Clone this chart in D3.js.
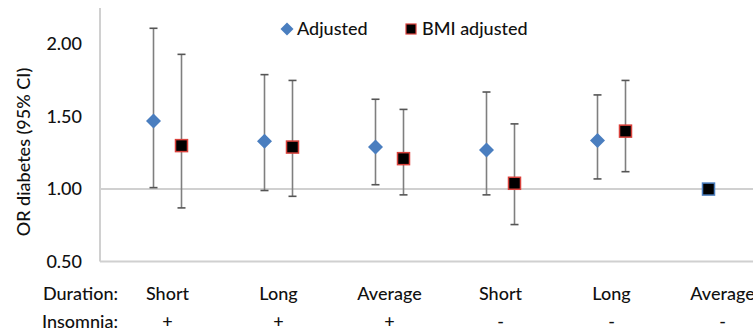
<!DOCTYPE html>
<html>
<head>
<meta charset="utf-8">
<title>OR diabetes</title>
<script src="https://d3js.org/d3.v7.min.js"></script>
<style>
	body { margin: 0; background: #fff; }
	text { font-family: Lato, "Open Sans", sans-serif; fill: #111; font-weight: 500; }
</style>
</head>
<body>
<div id="main"></div>
<script type="text/javascript">
	// values
	var categories   = ["Short +", "Long +", "Average +", "Short -", "Long -", "Average -"];
	var durations    = ["Short", "Long", "Average", "Short", "Long", "Average"];
	var insomnia     = ["+", "+", "+", "-", "-", "-"];
	var adjusted     = [1.47, 1.33, 1.29, 1.27, 1.335, 1.00];
	var adjustedLow  = [1.01, 0.99, 1.03, 0.96, 1.07, null];
	var adjustedHigh = [2.11, 1.79, 1.62, 1.67, 1.65, null];
	var bmiAdjusted  = [1.30, 1.29, 1.21, 1.04, 1.40, null];
	var bmiLow       = [0.87, 0.95, 0.96, 0.755, 1.12, null];
	var bmiHigh      = [1.93, 1.75, 1.55, 1.45, 1.75, null];
	var referenceCat = "Average -";
	var yTicks       = [0.5, 1.0, 1.5, 2.0];
	var seriesNames  = ["Adjusted", "BMI adjusted"];

	var screenWidth  = 753;
	var screenHeight = 334;
	var plot = {left: 100, top: 8, bottom: 261.5, right: 778};

	var blue = "#4a7ebf";
	var red  = "#d9423c";
	var barColour = "#7f7f7f";
	var lineColour = "#d0d0d0";

	var xScale = d3.scaleBand().domain(categories).range([plot.left + 12, plot.right]);
	var yScale = d3.scaleLinear().domain([0.5, 2.25]).range([plot.bottom, plot.top]);
	var shift  = 14;

	var svg = d3.select("#main").append("svg")
		.attr("width", screenWidth)
		.attr("height", screenHeight);

	function cx(cat){ return xScale(cat) + xScale.bandwidth() / 2; }

	function diamondPath(r){
		return "M0," + (-r) + "L" + r + ",0L0," + r + "L" + (-r) + ",0Z";
	}

	// axis lines: y axis, x axis at 0.5 and the line at OR = 1
	svg.append("line")
		.attr("x1", plot.left).attr("x2", plot.left)
		.attr("y1", plot.top).attr("y2", plot.bottom)
		.attr("stroke", lineColour).attr("stroke-width", 2);
	svg.selectAll("line.hline").data([0.5, 1.0]).enter().append("line")
		.attr("class", "hline")
		.attr("x1", plot.left).attr("x2", plot.right)
		.attr("y1", d => yScale(d)).attr("y2", d => yScale(d))
		.attr("stroke", lineColour).attr("stroke-width", 2);

	var yAxis = svg.append("g").attr("transform", "translate(" + (plot.left - 18) + ",0)")
		.call(d3.axisLeft(yScale).tickValues(yTicks).tickFormat(d3.format(".2f")).tickSize(0).tickPadding(0));
	yAxis.select(".domain").remove();
	yAxis.selectAll("text").attr("font-size", 18).attr("fill", "#111")
		.style("font-family", "Lato, sans-serif");

	svg.append("text")
		.attr("transform", "translate(23," + 152 + ") rotate(-90)")
		.attr("text-anchor", "middle")
		.attr("dominant-baseline", "central")
		.attr("font-size", 18)
		.text("OR diabetes (95% CI)");

	// build the rows for both series
	var rows = [];
	categories.forEach(function(cat, i){
		rows.push({cat: cat, series: 0, v: adjusted[i], lo: adjustedLow[i], hi: adjustedHigh[i]});
		rows.push({cat: cat, series: 1, v: bmiAdjusted[i], lo: bmiLow[i], hi: bmiHigh[i]});
	});
	rows = rows.filter(d => d.v !== null);
	function px(d){ return cx(d.cat) + (d.series === 0 ? -shift : shift); }

	var bars = rows.filter(d => d.lo !== null);
	var eb = svg.selectAll("g.err").data(bars).enter().append("g").attr("class", "err");
	eb.append("line")
		.attr("x1", px).attr("x2", px)
		.attr("y1", d => yScale(d.lo)).attr("y2", d => yScale(d.hi))
		.attr("stroke", barColour).attr("stroke-width", 1.6);
	eb.selectAll("line.cap").data(d => [{x: px(d), y: d.lo}, {x: px(d), y: d.hi}]).enter().append("line")
		.attr("class", "cap")
		.attr("x1", d => d.x - 4).attr("x2", d => d.x + 4)
		.attr("y1", d => yScale(d.y)).attr("y2", d => yScale(d.y))
		.attr("stroke", "#555").attr("stroke-width", 1.6);

	// markers
	svg.selectAll("path.adj").data(rows.filter(d => d.series === 0 && d.cat !== referenceCat)).enter().append("path")
		.attr("class", "adj")
		.attr("transform", d => "translate(" + px(d) + "," + yScale(d.v) + ")")
		.attr("d", diamondPath(7.5))
		.attr("fill", blue);
	svg.selectAll("rect.bmi").data(rows.filter(d => d.series === 1)).enter().append("rect")
		.attr("class", "bmi")
		.attr("x", d => px(d) - 6).attr("y", d => yScale(d.v) - 6)
		.attr("width", 12).attr("height", 12)
		.attr("fill", "#000").attr("stroke", red).attr("stroke-width", 1.5);
	svg.selectAll("rect.ref").data(rows.filter(d => d.cat === referenceCat)).enter().append("rect")
		.attr("class", "ref")
		.attr("x", d => px(d) - 6).attr("y", d => yScale(d.v) - 6)
		.attr("width", 12).attr("height", 12)
		.attr("fill", "#000").attr("stroke", blue).attr("stroke-width", 1.5);

	// legend
	var legend = svg.append("g").attr("transform", "translate(287,29)");
	legend.append("path").attr("d", diamondPath(6.5)).attr("fill", blue);
	legend.append("text").attr("x", 10).attr("y", 6).attr("font-size", 18).text(seriesNames[0]);
	legend.append("rect").attr("x", 119).attr("y", -5).attr("width", 10).attr("height", 10)
		.attr("fill", "#000").attr("stroke", red).attr("stroke-width", 1.2);
	legend.append("text").attr("x", 135).attr("y", 6).attr("font-size", 18).text(seriesNames[1]);

	// category rows under the axis
	svg.append("text").attr("x", 43).attr("y", 300).attr("font-size", 18).text("Duration:");
	svg.append("text").attr("x", 42).attr("y", 328).attr("font-size", 18).text("Insomnia:");
	svg.selectAll("text.dur").data(categories).enter().append("text")
		.attr("class", "dur")
		.attr("x", (d, i) => cx(d)).attr("y", 300)
		.attr("text-anchor", "middle").attr("font-size", 18)
		.text((d, i) => durations[i]);
	svg.selectAll("text.ins").data(categories).enter().append("text")
		.attr("class", "ins")
		.attr("x", (d, i) => cx(d)).attr("y", 328)
		.attr("text-anchor", "middle").attr("font-size", 18).attr("font-weight", "bold")
		.text((d, i) => insomnia[i]);
</script>
</body>
</html>
